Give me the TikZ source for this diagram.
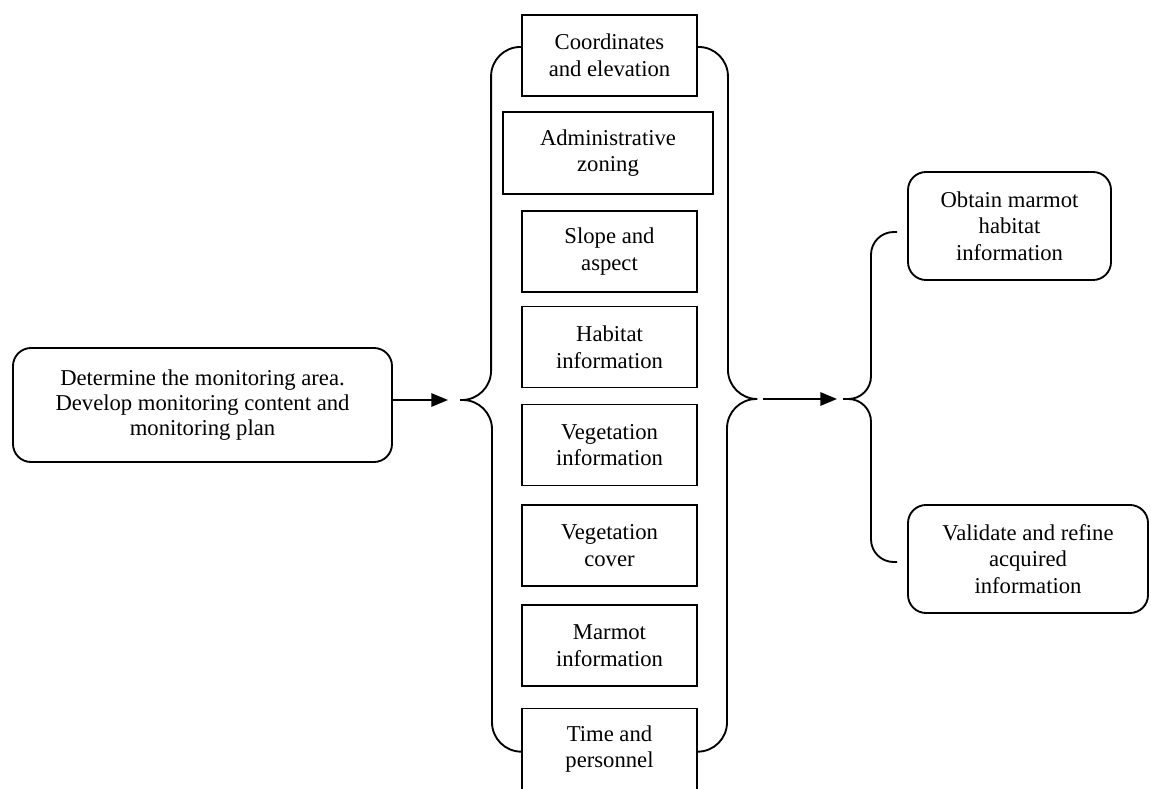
\documentclass[tikz,border=0pt]{standalone}
\usepackage{fontspec}
\setmainfont{Liberation Serif}
\usetikzlibrary{arrows.meta}

\begin{document}
\begin{tikzpicture}[x=0.75pt, y=-0.75pt, line width=1.4pt,
	every node/.style={font=\fontsize{17}{20}\selectfont, align=center},
	item/.style={draw, minimum width=131.25pt, minimum height=60.75pt, inner sep=0pt},
	stage/.style={draw, rounded corners=13.5pt, inner sep=0pt, minimum height=81pt},
	brace/.style={rounded corners=22pt},
	flow/.style={-{Triangle[length=12.5pt, width=10pt]}}]
	\useasboundingbox (0,0) rectangle (1151,788);

	% start
	\node[stage, minimum width=284.25pt, minimum height=85.5pt, font=\fontsize{17}{19}\selectfont] (plan) at (202.5,405) {Determine the monitoring area.\\ Develop monitoring content and\\ monitoring plan};

	% monitoring contents
	\node[item] (c1) at (609.5,55.5) {Coordinates\\ and elevation};
	\node[item, minimum width=157.5pt, minimum height=61.5pt] (c2) at (608,153) {Administrative\\ zoning};
	\node[item] (c3) at (609.5,251.5) {Slope and\\ aspect};
	\node[item] (c4) at (609.5,347) {Habitat\\ information};
	\node[item] (c5) at (609.5,445) {Vegetation\\ information};
	\node[item] (c6) at (609.5,545.5) {Vegetation\\ cover};
	\node[item] (c7) at (609.5,645.5) {Marmot\\ information};
	\node[item] (c8) at (609.5,749) {Time and\\ personnel};

	% results
	\node[stage, minimum width=152.25pt] (obtain) at (1009.5,226) {Obtain marmot\\ habitat\\ information};
	\node[stage, minimum width=180pt] (validate) at (1028,559) {Validate and refine\\ acquired\\ information};

	\coordinate (ltip) at (460,400);
	\coordinate (rtip) at (755,399);
	\coordinate (stip) at (843,399);

	% braces
	\draw[brace] ([yshift=6.4pt]c1.west) -- ++(-30,0) |- (ltip);
	\draw[brace] (ltip) -- ++(32,0) |- ([yshift=-2pt]c8.west);
	\draw[brace] ([yshift=6.4pt]c1.east) -- ++(30,0) |- (rtip);
	\draw[brace] (rtip) -- ++(-28,0) |- ([yshift=-2pt]c8.east);
	\draw[brace, rounded corners=17pt] (stip) -- ++(28,0) |- ([xshift=-7.5pt, yshift=-4.5pt]obtain.west);
	\draw[brace, rounded corners=17pt] (stip) -- ++(28,0) |- ([xshift=-7.5pt, yshift=-2.25pt]validate.west);

	% arrows
	\draw[flow] (plan.east |- ltip) -- ([xshift=-9pt]ltip);
	\draw[flow] ([xshift=6pt]rtip) -- ([xshift=-4.5pt]stip);
\end{tikzpicture}
\end{document}
